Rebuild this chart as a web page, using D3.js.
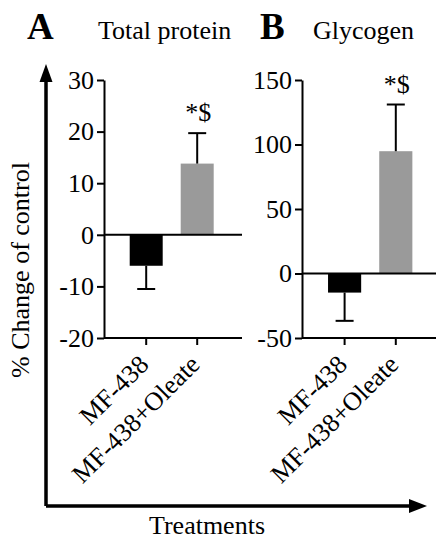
<!DOCTYPE html>
<html>
<head>
<meta charset="utf-8">
<script src="https://cdn.jsdelivr.net/npm/d3@7"></script>
<style>
  body { margin: 0; background: #fff; }
  svg, svg text { font-family: "Liberation Serif", "Times New Roman", "DejaVu Serif", serif; fill: #000; }
</style>
</head>
<body>
<script>
// data
var treatments = ["MF-438", "MF-438+Oleate"];
var proteinMean = [-6.0, 13.8];
var proteinErr = [4.5, 5.9];
var glycogenMean = [-14.8, 94.8];
var glycogenErr = [21.9, 36.2];
var proteinTicks = [-20, -10, 0, 10, 20, 30];
var glycogenTicks = [-50, 0, 50, 100, 150];
var sigLabels = ["", "*$"];
var barColors = ["#000000", "#9a9a9a"];

var serif = "'Liberation Serif', 'Times New Roman', serif";

var svg = d3.select("body").append("svg")
    .attr("width", 436)
    .attr("height", 540)
    .attr("font-family", serif);

var yTop = 80, yBottom = 338;

function drawPanel(p) {
  var y = d3.scaleLinear().domain([p.ticks[0], p.ticks[p.ticks.length - 1]]).range([yBottom, yTop]);
  var x = d3.scaleBand().domain(treatments).range(p.band).paddingInner(0.353).paddingOuter(0.1765);
  var g = svg.append("g");

  // y axis
  var yAxis = g.append("g")
      .attr("transform", "translate(" + p.left + ",0)")
      .call(d3.axisLeft(y).tickValues(p.ticks).tickSize(7).tickPadding(3).tickSizeOuter(0)
            .tickFormat(function(d) { return String(d); }));
  yAxis.attr("font-family", serif).attr("font-size", null);
  yAxis.selectAll("path, line").attr("stroke", "#000").attr("stroke-width", 2);
  yAxis.selectAll("text").style("font-family", serif).style("font-size", "26px");

  // bottom axis line + ticks
  g.append("line")
      .attr("x1", p.left).attr("x2", p.right)
      .attr("y1", y(p.ticks[0])).attr("y2", y(p.ticks[0]))
      .attr("stroke", "#000").attr("stroke-width", 2);
  var xAxis = g.append("g")
      .attr("transform", "translate(0," + y(p.ticks[0]) + ")")
      .call(d3.axisBottom(x).tickSize(7).tickSizeOuter(0));
  xAxis.attr("font-family", serif).attr("font-size", null);
  xAxis.select(".domain").remove();
  xAxis.selectAll("line").attr("stroke", "#000").attr("stroke-width", 2);
  xAxis.selectAll("text")
      .attr("x", 0).attr("y", 0).attr("dy", null)
      .attr("text-anchor", "end")
      .attr("transform", "translate(4,28) rotate(-45)")
      .style("font-family", serif)
      .style("font-size", "26px");

  // bars
  g.selectAll("rect.bar")
      .data(p.mean)
      .enter().append("rect")
      .attr("class", "bar")
      .attr("x", function(d, i) { return x(treatments[i]); })
      .attr("width", x.bandwidth())
      .attr("y", function(d) { return Math.min(y(d), y(0)); })
      .attr("height", function(d) { return Math.abs(y(d) - y(0)); })
      .attr("fill", function(d, i) { return barColors[i]; });

  // zero line
  g.append("line")
      .attr("x1", p.left).attr("x2", p.right)
      .attr("y1", y(0)).attr("y2", y(0))
      .attr("stroke", "#000").attr("stroke-width", 2);

  // error bars
  p.mean.forEach(function(m, i) {
    var cx = x(treatments[i]) + x.bandwidth() / 2;
    var end = m < 0 ? m - p.err[i] : m + p.err[i];
    g.append("line")
        .attr("x1", cx).attr("x2", cx)
        .attr("y1", y(m)).attr("y2", y(end))
        .attr("stroke", "#000").attr("stroke-width", 2);
    g.append("line")
        .attr("x1", cx - 9).attr("x2", cx + 9)
        .attr("y1", y(end)).attr("y2", y(end))
        .attr("stroke", "#000").attr("stroke-width", 2);
    if (sigLabels[i]) {
      g.append("text")
          .attr("x", cx + 1).attr("y", y(end) - 12)
          .attr("text-anchor", "middle")
          .style("font-family", serif)
          .style("font-size", "26px")
          .text(sigLabels[i]);
    }
  });

  // panel letter and title
  g.append("text")
      .attr("x", p.letterX).attr("y", 39)
      .style("font-family", serif)
      .style("font-size", "37px").style("font-weight", "bold")
      .text(p.letter);
  g.append("text")
      .attr("x", p.titleX).attr("y", 39)
      .style("font-family", serif)
      .style("font-size", "26px")
      .text(p.title);
}

drawPanel({ ticks: proteinTicks, mean: proteinMean, err: proteinErr,
            left: 104, right: 242, band: [120.7, 222.7],
            letter: "A", letterX: 27, title: "Total protein", titleX: 98 });
drawPanel({ ticks: glycogenTicks, mean: glycogenMean, err: glycogenErr,
            left: 302, right: 436, band: [319, 421.4],
            letter: "B", letterX: 260, title: "Glycogen", titleX: 313 });

// big outer arrows
svg.append("path")
    .attr("d", "M46,506 V78 M46,506 H410")
    .attr("fill", "none").attr("stroke", "#000").attr("stroke-width", 3.5);
svg.append("path").attr("d", "M46,64 L39.5,82 L52.5,82 Z").attr("fill", "#000");
svg.append("path").attr("d", "M427,506 L409,499 L409,513 Z").attr("fill", "#000");

svg.append("text")
    .attr("transform", "translate(29,270) rotate(-90)")
    .attr("text-anchor", "middle")
    .style("font-family", serif)
    .style("font-size", "26px")
    .text("% Change of control");

svg.append("text")
    .attr("x", 207).attr("y", 534)
    .attr("text-anchor", "middle")
    .style("font-family", serif)
    .style("font-size", "26px")
    .text("Treatments");
</script>
</body>
</html>
